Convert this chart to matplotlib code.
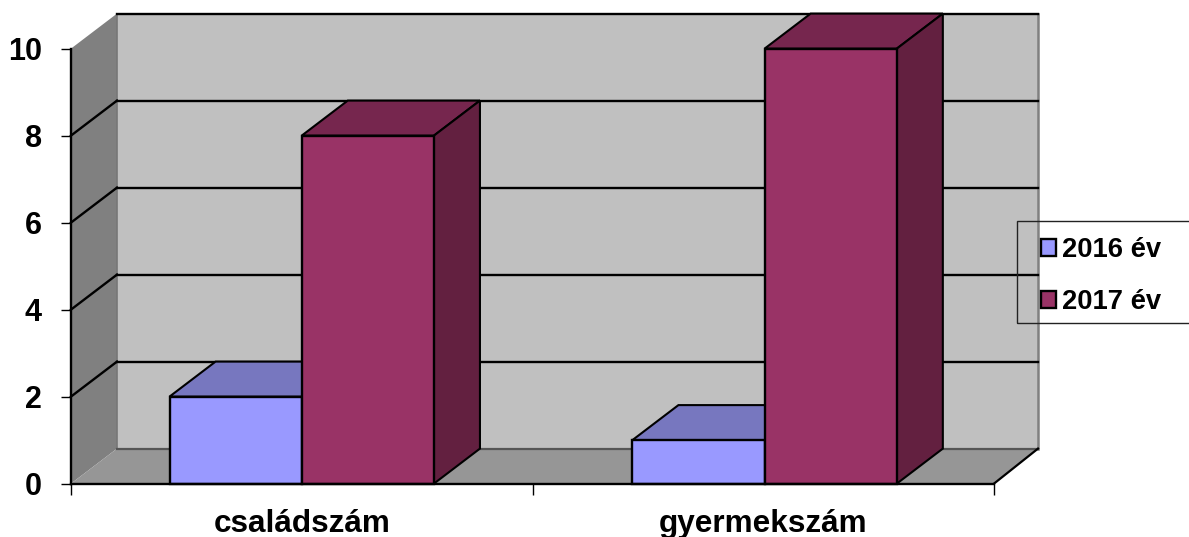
import matplotlib
matplotlib.use('Agg')
import matplotlib.pyplot as plt
from matplotlib.patches import Rectangle

plt.rcParams['font.family'] = ['Liberation Sans', 'DejaVu Sans']

# --- data ---
kategoriak = ['családszám', 'gyermekszám']
ev_nevek = ['2016 év', '2017 év']
ertekek_2016 = [2, 1]
ertekek_2017 = [8, 10]
y_ticks = [0, 2, 4, 6, 8, 10]

# front / top / side colours per series
szinek_2016 = ['#9999FF', '#7777BF', '#5C5C99']
szinek_2017 = ['#993366', '#76264E', '#632040']

W, H = 1189, 537
fig = plt.figure(figsize=(W / 100, H / 100), dpi=100)

# axes = the front plane of the fake 3D box
ax = fig.add_axes([71 / W, (H - 483.6) / H, 923 / W, 435 / H])
ax.set_xlim(0, 2)
ax.set_ylim(0, 10)
ax.patch.set_visible(False)

# depth of the box, in data units
dx = 46 / 461.5
dx_jobb = 44 / 461.5   # right side of the box is a bit shorter in the original
dy = 35 / 43.5
bar_w = 132.2 / 461.5
kozepek = [0.5, 1.503]

# --- walls ---
ax.fill([dx, 2 + dx_jobb, 2 + dx_jobb, dx], [dy, dy, 10 + dy, 10 + dy], color='#C0C0C0', lw=0, zorder=1, clip_on=False)
ax.fill([0, dx, dx, 0], [0, dy, 10 + dy, 10], color='#808080', lw=0, zorder=1, clip_on=False)
ax.fill([0, 2, 2 + dx_jobb, dx], [0, 0, dy, dy], color='#969696', lw=0, zorder=1, clip_on=False)

# wall edges
ax.plot([dx, dx], [dy, 10 + dy], color='#777777', lw=1.2, zorder=2, clip_on=False)
ax.plot([2 + dx_jobb, 2 + dx_jobb], [dy, 10 + dy], color='#808080', lw=1.8, zorder=2, clip_on=False)
ax.plot([dx, 2 + dx_jobb], [dy, dy], color='#555555', lw=1.6, zorder=2, clip_on=False)
ax.plot([2, 2 + dx_jobb], [0, dy], color='black', lw=1.6, zorder=2, clip_on=False)

# --- grid lines ---
for t in y_ticks[1:]:
    ax.plot([dx, 2 + dx_jobb], [t + dy, t + dy], color='black', lw=1.7, zorder=2, clip_on=False)
    if t < 10:
        ax.plot([0, dx], [t, t + dy], color='black', lw=1.7, zorder=2, clip_on=False)


def rajz_oszlop(x, v, szinek):
    # top and side first, then the front bar
    ax.fill([x, x + bar_w, x + bar_w + dx, x + dx], [v, v, v + dy, v + dy],
            facecolor=szinek[1], edgecolor='black', lw=1.5, zorder=3, clip_on=False)
    ax.fill([x + bar_w, x + bar_w + dx, x + bar_w + dx, x + bar_w], [0, dy, v + dy, v],
            facecolor=szinek[2], edgecolor='black', lw=1.5, zorder=3, clip_on=False)
    return ax.bar(x, v, width=bar_w, align='edge', color=szinek[0], edgecolor='black',
                  lw=1.7, zorder=4, clip_on=False)


bars = []
for i in range(len(kategoriak)):
    b1 = rajz_oszlop(kozepek[i] - bar_w, ertekek_2016[i], szinek_2016)
    b2 = rajz_oszlop(kozepek[i], ertekek_2017[i], szinek_2017)
    bars = [b1, b2]

# --- axes, ticks ---
for s in ['top', 'right']:
    ax.spines[s].set_visible(False)
for s in ['left', 'bottom']:
    ax.spines[s].set_linewidth(1.7)
    ax.spines[s].set_zorder(5)

ax.set_yticks(y_ticks)
ax.set_yticklabels([str(t) for t in y_ticks], fontsize=22, fontweight='bold')
ax.tick_params(axis='y', length=7, width=1, pad=14)

ax.set_xticks([0, 1, 2])
ax.set_xticklabels(['', '', ''])
ax.set_xticks([0.5, 1.5], minor=True)
ax.set_xticklabels(kategoriak, minor=True, fontsize=22.7, fontweight='bold')
ax.tick_params(axis='x', which='major', length=8, width=1)
ax.tick_params(axis='x', which='minor', length=0, pad=18)

# --- legend ---
# box runs off the right side of the picture, like the original
fig.add_artist(Rectangle((1017 / W, (H - 323) / H), 200 / W, 102 / H, transform=fig.transFigure,
                         facecolor='none', edgecolor='#222222', lw=1))
ax.legend(bars, ev_nevek, loc='center left', bbox_to_anchor=(1041 / W, (H - 276) / H),
          bbox_transform=fig.transFigure, frameon=False, prop={'size': 19.7, 'weight': 'bold'},
          handlelength=0.55, handleheight=0.55, handletextpad=0.22, labelspacing=0.95,
          borderpad=0, borderaxespad=0)

fig.savefig('out.png', dpi=100)
